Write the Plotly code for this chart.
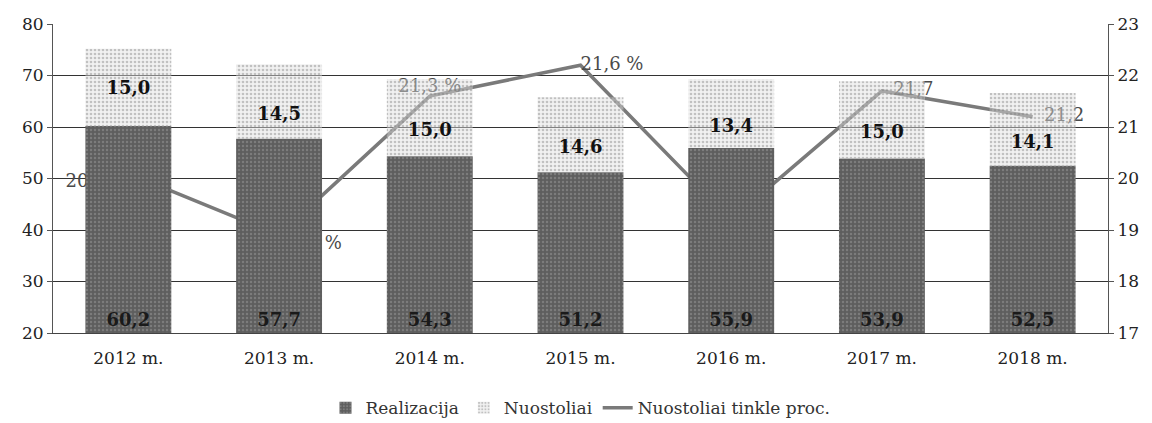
import plotly.graph_objects as go

years = ["2012 m.", "2013 m.", "2014 m.", "2015 m.", "2016 m.", "2017 m.", "2018 m."]
realizacija = [60.2, 57.7, 54.3, 51.2, 55.9, 53.9, 52.5]
nuostoliai = [15.0, 14.5, 15.0, 14.6, 13.4, 15.0, 14.1]
proc = [20.1, 18.9, 21.6, 22.2, 19.2, 21.7, 21.2]
proc_labels = ["20,1 %", "18,9 %", "21,3 %", "21,6 %", "19,3 %", "  21,7", "  21,2"]
proc_pos = ["bottom left", "bottom right", "top center", "middle right", "bottom center", "middle right", "middle right"]

AXIS_MIN = 20

def fmt(v):
    return f"{v:.1f}".replace(".", ",")

FONT = "DejaVu Serif"

fig = go.Figure()

fig.add_trace(go.Bar(
    x=years, y=[v - AXIS_MIN for v in realizacija], base=AXIS_MIN, name="Realizacija",
    marker=dict(color="#6f6f6f", line=dict(width=0),
                pattern=dict(shape=".", fgcolor="#9a9a9a", bgcolor="#5e5e5e", size=4, solidity=0.3)),
    text=[fmt(v) for v in realizacija], textposition="inside", insidetextanchor="start",
    textangle=0,
    insidetextfont=dict(family=FONT, size=18, color="#1a1a1a", weight="bold"),
    xaxis="x", yaxis="y2",
))
fig.add_trace(go.Bar(
    x=years, y=nuostoliai, base=realizacija, name="Nuostoliai",
    marker=dict(color="rgba(200,200,200,0.55)", line=dict(width=0),
                pattern=dict(shape=".", fgcolor="rgba(120,120,120,0.8)", bgcolor="rgba(225,225,225,0.45)", size=4, solidity=0.35)),
    text=[fmt(v) if i == 0 else " <br>" + fmt(v) for i, v in enumerate(nuostoliai)],
    textposition="inside", insidetextanchor="middle",
    textangle=0,
    insidetextfont=dict(family=FONT, size=18, color="#111111", weight="bold"),
    xaxis="x", yaxis="y2",
))
# line on the base (right) axis so that the bars are drawn above it
fig.add_trace(go.Scatter(
    x=years, y=proc, name="Nuostoliai tinkle proc.",
    mode="lines+text", text=proc_labels, textposition=proc_pos,
    textfont=dict(family=FONT, size=18, color="#4a4a4a"),
    line=dict(color="#7a7a7a", width=3.5),
    xaxis="x", yaxis="y", cliponaxis=False,
))

fig.update_layout(
    width=1144, height=415,
    margin=dict(l=45, r=44, t=16, b=90, autoexpand=False),
    paper_bgcolor="white", plot_bgcolor="white",
    barmode="overlay", bargap=0.43,
    font=dict(family=FONT, size=17, color="#222222"),
    showlegend=True,
    legend=dict(orientation="h", x=0.5, xanchor="center", y=-0.185, yanchor="top",
                font=dict(family=FONT, size=17, color="#333333"),
                traceorder="normal"),
    xaxis=dict(type="category", categoryorder="array", categoryarray=years,
               showgrid=False, showline=True, linecolor="#444444", linewidth=1,
               tickfont=dict(family=FONT, size=17, color="#222222"),
               ticks="", ticklabelstandoff=10, automargin=False),
    yaxis=dict(side="right", range=[17, 23], dtick=1, showgrid=False, zeroline=False,
               showline=True, linecolor="#555555", linewidth=1, ticks="outside", ticklen=5,
               tickcolor="#555555", tickfont=dict(family=FONT, size=17, color="#222222"),
               automargin=False),
    yaxis2=dict(side="left", overlaying="y", range=[20, 80], dtick=10,
                showgrid=True, gridcolor="#333333", gridwidth=1, zeroline=False,
                showline=True, linecolor="#555555", linewidth=1, ticks="outside", ticklen=5,
                tickcolor="#555555", tickfont=dict(family=FONT, size=17, color="#222222"),
                automargin=False),
)

fig.write_html("out.html")
